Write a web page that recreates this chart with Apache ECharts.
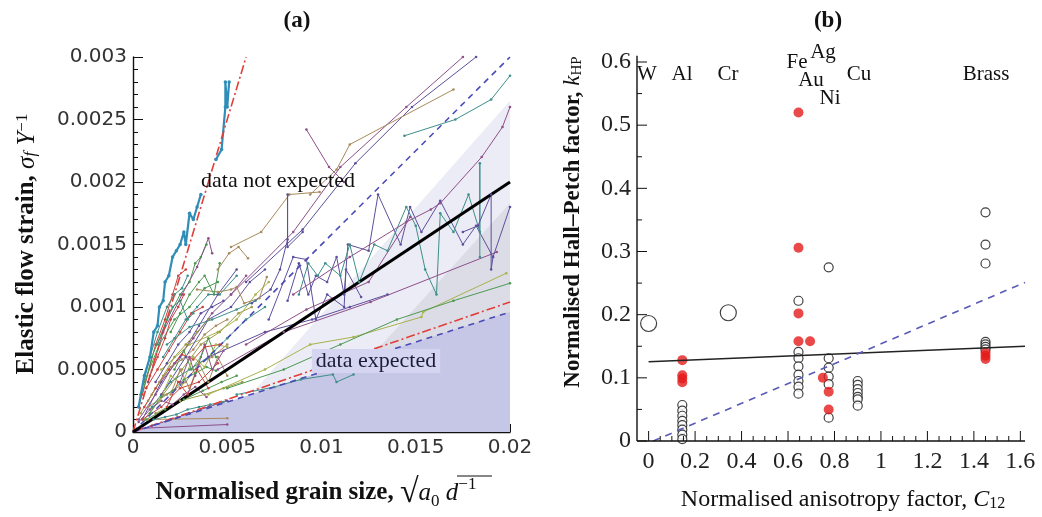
<!DOCTYPE html>
<html>
<head>
<meta charset="utf-8">
<script src="https://cdn.jsdelivr.net/npm/echarts@6/dist/echarts.min.js"></script>
<style>
  html, body { margin: 0; padding: 0; background: #fff; }
  #wrap { position: relative; width: 1042px; height: 517px; }
  #chartA { position: absolute; left: 0; top: 0; width: 540px; height: 517px; }
  #chartB { position: absolute; left: 540px; top: 0; width: 502px; height: 517px; }
</style>
</head>
<body>
<div id="wrap"><div id="chartA"></div><div id="chartB"></div></div>
<script>
// ---- panel (a): elastic flow strain vs normalised grain size ----
var xTicksA = [0, 0.005, 0.01, 0.015, 0.02];
var yTicksA = [0, 0.0005, 0.001, 0.0015, 0.002, 0.0025, 0.003];

// shaded regions (upper boundary of each area)
var shadeLight = [[0.0045, 0], [0.02, 0.00265]];
var shadeGrey = [[0.009, 0], [0.02, 0.00183]];
var shadeDark = [[0, 0], [0.02, 0.00096]];

// reference lines
var fitLine = [[0, 0], [0.02, 0.002]];
var upperBound = [[0, 0], [0.02, 0.003]];
var lowerBound = [[0, 0], [0.02, 0.00096]];
var lowerRed = [[0, 0], [0.02, 0.00104]];
var steepRed = [[0, 0], [0.006, 0.003]];

// measured data series (thick cyan set)
var cyanLow = [[0.0003, 0.0002], [0.0006, 0.00045], [0.0009, 0.0006], [0.0011, 0.0008], [0.0013, 0.00085],
  [0.0014, 0.001], [0.0016, 0.00105], [0.0017, 0.0012], [0.0019, 0.00125], [0.0021, 0.0014], [0.0023, 0.00145],
  [0.0025, 0.0015], [0.0027, 0.0016], [0.0028, 0.0015], [0.003, 0.00175], [0.0032, 0.0017], [0.0034, 0.0018],
  [0.0036, 0.0019]];
var cyanTop = [[0.0044, 0.00218], [0.0047, 0.00226], [0.0049, 0.0026], [0.0049, 0.0028], [0.005, 0.0026], [0.0051, 0.0028]];

// other measured series, thin lines
var steepLines = [
  [[0.0005, 0.0003], [0.0012, 0.0007], [0.0017, 0.0009], [0.0021, 0.0011], [0.0024, 0.00125], [0.0028, 0.0013]],
  [[0.0004, 0.0003], [0.0009, 0.0006], [0.0013, 0.0008], [0.0018, 0.001], [0.0022, 0.0011], [0.0026, 0.00115], [0.0029, 0.00125]],
  [[0.0003, 0.0002], [0.001, 0.0006], [0.0018, 0.0009], [0.0025, 0.0011], [0.003, 0.0012], [0.0033, 0.00135], [0.0036, 0.0014], [0.0039, 0.0015]],
  [[0.0008, 0.0004], [0.0016, 0.0008], [0.0026, 0.0011], [0.0034, 0.00132], [0.004, 0.00155], [0.0042, 0.00143]],
  [[0.0034, 0.00114], [0.0045, 0.00112], [0.0052, 0.00114], [0.0055, 0.00116], [0.0059, 0.00103], [0.0067, 0.00107], [0.0071, 0.00124]],
  [[0.0045, 0.0013], [0.0051, 0.00143], [0.0056, 0.00148], [0.0061, 0.00139]],
  [[0.0018, 0.0007], [0.003, 0.00084], [0.0042, 0.0009], [0.0055, 0.00098], [0.0065, 0.00105]],
  [[0.0006, 0.0004], [0.0014, 0.0007], [0.0022, 0.0009], [0.003, 0.001], [0.0038, 0.00115], [0.0045, 0.0012]],
  [[0.002, 0.0008], [0.0025, 0.00095], [0.003, 0.0011], [0.0035, 0.0012], [0.0038, 0.00125], [0.0043, 0.0011], [0.0046, 0.00135]],
  [[0.0009, 0.00045], [0.0013, 0.0006], [0.0017, 0.00075], [0.002, 0.0009], [0.0024, 0.001], [0.0027, 0.0011]],
  [[0.0013, 0.0007], [0.0017, 0.00085], [0.0021, 0.001], [0.0025, 0.00105], [0.0029, 0.0009], [0.0032, 0.00095]]
];
var steepColors = ['R', 'T', 'G', 'M', 'N', 'N', 'T', 'G', 'G', 'R', 'T'];

var fanLines = [
  [[0.0005, 0.0001], [0.0015, 0.0004], [0.0025, 0.0006], [0.0035, 0.00085], [0.0045, 0.0011], [0.0055, 0.0013]],
  [[0.0003, 0.0001], [0.0012, 0.0003], [0.0022, 0.00055], [0.0032, 0.00075], [0.0042, 0.00095], [0.0052, 0.0011], [0.006, 0.00125]],
  [[0.0006, 0.0001], [0.0016, 0.0003], [0.0026, 0.0005], [0.0036, 0.0007], [0.0046, 0.0008], [0.0056, 0.00095], [0.0063, 0.001]],
  [[0.0008, 0.0002], [0.0018, 0.0003], [0.0028, 0.0004], [0.0035, 0.00055], [0.0042, 0.0006], [0.005, 0.0007]],
  [[0.0005, 0.0001], [0.0015, 0.0002], [0.0025, 0.00035], [0.0035, 0.0004], [0.0045, 0.00055]],
  [[0.0007, 0.0001], [0.0017, 0.00018], [0.0027, 0.00026], [0.0037, 0.00033], [0.0047, 0.0004], [0.0055, 0.00045]],
  [[0.001, 0.00005], [0.002, 0.0001], [0.003, 0.00015], [0.004, 0.0002], [0.005, 0.00025]],
  [[0.0005, 0.00003], [0.005, 0.00006]],
  [[0.0008, 0.0001], [0.005, 0.00011]],
  [[0.0015, 0.0005], [0.003, 0.0007], [0.0045, 0.0008], [0.0055, 0.0009], [0.0065, 0.0011], [0.0072, 0.0012]],
  [[0.002, 0.0003], [0.0025, 0.0005], [0.003, 0.00035], [0.0035, 0.00055], [0.004, 0.0004], [0.0045, 0.0006], [0.005, 0.00045]],
  [[0.0025, 0.0004], [0.003, 0.0006], [0.0033, 0.00045], [0.0038, 0.0007], [0.0042, 0.0005], [0.0048, 0.00065]],
  [[0.0018, 0.0002], [0.0024, 0.0004], [0.0029, 0.0003], [0.0034, 0.0005], [0.004, 0.00035]],
  [[0.001, 0.0002], [0.002, 0.0004], [0.003, 0.0005], [0.004, 0.0006], [0.005, 0.00075], [0.006, 0.0009], [0.007, 0.001]],
  [[0.0015, 0.0003], [0.0028, 0.0006], [0.004, 0.0009], [0.0052, 0.001], [0.0062, 0.0012], [0.007, 0.0013]],
  [[0.0012, 0.00015], [0.0025, 0.00025], [0.0038, 0.0003], [0.0048, 0.00035], [0.0058, 0.0004]],
  [[0.0022, 0.0005], [0.0027, 0.00065], [0.0031, 0.0005], [0.0036, 0.0006], [0.004, 0.00075], [0.0044, 0.0006]],
  [[0.0004, 0.00015], [0.001, 0.0003], [0.0016, 0.00045], [0.0022, 0.0006], [0.0028, 0.0007], [0.0034, 0.0008], [0.004, 0.0009]],
  [[0.0006, 0.0002], [0.0012, 0.00035], [0.0019, 0.0005], [0.0026, 0.00062], [0.0032, 0.00058], [0.0038, 0.00068], [0.0046, 0.0007]],
  [[0.0009, 0.00015], [0.0015, 0.00028], [0.0021, 0.00033], [0.0027, 0.00042], [0.0033, 0.00047], [0.0039, 0.00052], [0.0044, 0.00049]],
  [[0.0003, 0.00008], [0.0009, 0.00018], [0.0015, 0.00025], [0.0021, 0.00022], [0.0027, 0.0003], [0.0033, 0.00036], [0.0039, 0.00028]],
  [[0.0012, 0.0004], [0.0018, 0.00055], [0.0024, 0.0007], [0.003, 0.0008], [0.0036, 0.00095], [0.0042, 0.001], [0.0048, 0.00105]],
  [[0.0014, 0.00025], [0.002, 0.00045], [0.0026, 0.00038], [0.0032, 0.0006], [0.0038, 0.00052], [0.0044, 0.0007], [0.005, 0.00068]],
  [[0.0016, 0.0006], [0.0022, 0.00075], [0.0028, 0.0009], [0.0034, 0.001], [0.004, 0.0011], [0.0046, 0.0011], [0.0055, 0.00125]],
  [[0.0007, 0.00035], [0.0013, 0.0005], [0.0019, 0.00065], [0.0025, 0.0008], [0.0031, 0.00095], [0.0037, 0.001]],
  [[0.0011, 0.0001], [0.0017, 0.00012], [0.0023, 0.00014], [0.0029, 0.00018], [0.0035, 0.0002], [0.0041, 0.00022], [0.0048, 0.00024]],
  [[0.0008, 0.00025], [0.0014, 0.0004], [0.002, 0.00052], [0.0026, 0.00058], [0.0032, 0.00066], [0.0038, 0.00078], [0.0044, 0.00085], [0.005, 0.0009]]
];
var fanColors = ['P', 'M', 'O', 'N', 'R', 'G', 'P', 'M', 'N', 'Y', 'N', 'M', 'R', 'T', 'P', 'O', 'G',
  'O', 'R', 'G', 'M', 'P', 'Y', 'T', 'R', 'T', 'N'];

var upperLines = [
  [[0.0052, 0.0011], [0.0085, 0.0016], [0.011, 0.00212], [0.0145, 0.0026], [0.0175, 0.003]],
  [[0.006, 0.0012], [0.009, 0.00162], [0.0118, 0.00215], [0.0148, 0.0026], [0.0182, 0.003]],
  [[0.0094, 0.0019], [0.0108, 0.0021], [0.0115, 0.0023], [0.017, 0.00274]],
  [[0.0092, 0.00242], [0.0104, 0.00212], [0.0112, 0.002]],
  [[0.0144, 0.00237], [0.0171, 0.0025], [0.019, 0.00266], [0.02, 0.00285]],
  [[0.0085, 0.0011], [0.0115, 0.0014], [0.0145, 0.00168], [0.0158, 0.00178], [0.0163, 0.00183], [0.0185, 0.0022], [0.0196, 0.00244], [0.02, 0.0026]],
  [[0.0052, 0.00148], [0.0068, 0.0016], [0.0083, 0.0019], [0.0099, 0.00192]],
  [[0.0063, 0.00103], [0.0073, 0.00114], [0.0078, 0.0013], [0.0082, 0.00154], [0.0082, 0.0019], [0.0082, 0.00148], [0.009, 0.0016]]
];
var upperColors = ['M', 'P', 'N', 'M', 'T', 'M', 'N', 'P'];

var midLines = [
  [[0.0082, 0.00105], [0.0088, 0.00135], [0.0093, 0.0011], [0.0097, 0.00125], [0.0103, 0.0012], [0.0108, 0.0014], [0.0112, 0.0011],
   [0.0114, 0.0015], [0.0125, 0.00145], [0.013, 0.0019], [0.0142, 0.0015], [0.0147, 0.0018], [0.0153, 0.0016], [0.0163, 0.00185],
   [0.0175, 0.0015], [0.0182, 0.00165], [0.0191, 0.0014]],
  [[0.0088, 0.0011], [0.0093, 0.00135], [0.0098, 0.00125], [0.0102, 0.00135], [0.011, 0.00125], [0.0115, 0.0015], [0.012, 0.0012],
   [0.0128, 0.0015], [0.0135, 0.00145], [0.0145, 0.0018], [0.015, 0.00165], [0.0155, 0.0013], [0.0161, 0.0011], [0.0163, 0.00175],
   [0.017, 0.0016], [0.0178, 0.0019], [0.0184, 0.0016], [0.0184, 0.00215], [0.0184, 0.0014]],
  [[0.0045, 0.0005], [0.008, 0.0008], [0.0126, 0.00104], [0.0193, 0.00144]],
  [[0.004, 0.0003], [0.007, 0.0005], [0.0094, 0.0007], [0.0117, 0.00076], [0.0153, 0.00092], [0.0154, 0.00096], [0.0198, 0.00127]],
  [[0.005, 0.00035], [0.008, 0.0005], [0.011, 0.0007], [0.014, 0.0009], [0.017, 0.00105], [0.02, 0.00119]],
  [[0.0055, 0.0003], [0.0075, 0.00036], [0.0089, 0.00042], [0.0106, 0.00046], [0.0108, 0.0004], [0.0117, 0.00046]],
  [[0.004, 0.0006], [0.007, 0.0008], [0.0095, 0.0009], [0.0115, 0.001], [0.0135, 0.0011]],
  [[0.0175, 0.0016], [0.0183, 0.00165], [0.019, 0.0019], [0.019, 0.0013], [0.0191, 0.0014], [0.02, 0.0018]],
  [[0.0072, 0.0009], [0.0085, 0.0014], [0.0092, 0.00138], [0.0097, 0.0009], [0.0103, 0.0011], [0.0112, 0.001], [0.0113, 0.0013], [0.0121, 0.00108]],
  [[0.006, 0.0007], [0.0092, 0.00098], [0.0125, 0.0012], [0.0147, 0.00172]]
];
var midColors = ['P', 'T', 'M', 'Y', 'G', 'T', 'P', 'P', 'P', 'M'];

// ---- panel (b): Hall-Petch factor vs anisotropy factor ----
var xRangeB = [-0.05, 1.62];
var yRangeB = [0, 0.6];
var xMajorB = [0, 0.2, 0.4, 0.6, 0.8, 1, 1.2, 1.4, 1.6];
var xMinorB = [0.05, 0.1, 0.15, 0.25, 0.3, 0.35, 0.45, 0.5, 0.55, 0.65, 0.7, 0.75, 0.85, 0.9, 0.95,
  1.05, 1.1, 1.15, 1.25, 1.3, 1.35, 1.45, 1.5, 1.55];
var yMajorB = [0, 0.1, 0.2, 0.3, 0.4, 0.5, 0.6];
var yMinorB = [0.05, 0.15, 0.25, 0.35, 0.45, 0.55];
var openBig = [[0, 0.186], [0.343, 0.203]];
var openSmall = [
  [0.145, 0.057], [0.145, 0.048], [0.145, 0.04], [0.145, 0.032], [0.145, 0.025], [0.145, 0.018], [0.145, 0.01], [0.145, 0.003],
  [0.645, 0.222], [0.645, 0.141], [0.645, 0.131], [0.645, 0.118], [0.645, 0.105], [0.645, 0.095], [0.645, 0.086], [0.645, 0.075],
  [0.775, 0.275], [0.775, 0.131], [0.775, 0.116], [0.775, 0.102], [0.775, 0.09], [0.775, 0.037],
  [0.9, 0.095], [0.9, 0.089], [0.9, 0.082], [0.9, 0.076], [0.9, 0.07], [0.9, 0.066], [0.9, 0.056],
  [1.45, 0.362], [1.45, 0.311], [1.45, 0.281], [1.45, 0.157], [1.45, 0.153], [1.45, 0.149], [1.45, 0.145]
];
var redPts = [
  [0.145, 0.128], [0.145, 0.104], [0.145, 0.099], [0.145, 0.093],
  [0.645, 0.52], [0.645, 0.306], [0.645, 0.202], [0.645, 0.158], [0.695, 0.158],
  [0.75, 0.1], [0.775, 0.078], [0.775, 0.05],
  [1.45, 0.14], [1.45, 0.135], [1.45, 0.13]
];
var fitB = [[0, 0.1255], [1.62, 0.15]];
var expectB = [[0.02, 0], [1.62, 0.251]];
var metals = [
  ['W', 107, 74], ['Al', 142, 74], ['Cr', 188, 74], ['Fe', 257, 62], ['Ag', 283, 52],
  ['Au', 271, 80], ['Cu', 319, 74], ['Ni', 290, 98], ['Brass', 446, 74]
];

// styles
var palette = {
  P: '#5c4f9e', M: '#8e4f8a', T: '#3d8f88', O: '#9c9a44', N: '#a88a5c',
  R: '#c8443f', G: '#4c9a52', Y: '#a9b24c', C: '#2f8db8'
};
var serif = 'Liberation Serif';

function areaSeries(data, color) {
  return {
    type: 'line', data: data, silent: true,
    symbol: 'none', lineStyle: { width: 0 }, areaStyle: { color: color, opacity: 1 }
  };
}
function dataSeries(data, color, width, size) {
  return {
    type: 'line', data: data, silent: true,
    symbol: 'circle', symbolSize: size || 2.6, showSymbol: true,
    itemStyle: { color: color }, lineStyle: { color: color, width: width || 1 }
  };
}
function refSeries(data, color, width, dash) {
  return {
    type: 'line', data: data, silent: true, symbol: 'none',
    lineStyle: { color: color, width: width, type: dash || 'solid' }
  };
}
function centered(extra) {
  var s = { fill: '#111', align: 'center', verticalAlign: 'middle', textAlign: 'center', textVerticalAlign: 'middle' };
  for (var k in extra) s[k] = extra[k];
  return s;
}

// ---------- chart A ----------
var seriesA = [];
seriesA.push(areaSeries(shadeLight, '#ececf6'));
seriesA.push(areaSeries(shadeGrey, '#dcdce6'));
seriesA.push(areaSeries(shadeDark, '#c6c6e6'));
function addGroup(lines, colors) {
  for (var i = 0; i < lines.length; i++) {
    seriesA.push(dataSeries(lines[i], palette[colors[i]]));
  }
}
addGroup(fanLines, fanColors);
addGroup(steepLines, steepColors);
addGroup(midLines, midColors);
addGroup(upperLines, upperColors);
seriesA.push(dataSeries(cyanLow, palette.C, 2.2, 3.5));
seriesA.push(dataSeries(cyanTop, palette.C, 2.2, 3.5));
seriesA.push(refSeries(lowerRed, '#e0403a', 1.6, [9, 3, 2, 3]));
seriesA.push(refSeries(lowerBound, '#4a4ab8', 1.6, [6, 5]));
seriesA.push(refSeries(steepRed, '#e0403a', 1.6, [9, 3, 2, 3]));
seriesA.push(refSeries(upperBound, '#4a4ab8', 1.6, [6, 5]));
seriesA.push(refSeries(fitLine, '#000', 3));

var chartA = echarts.init(document.getElementById('chartA'));
chartA.setOption({
  animation: false,
  backgroundColor: '#fff',
  grid: { left: 133, right: 30, top: 57, bottom: 85 },
  xAxis: {
    type: 'value', min: xTicksA[0], max: xTicksA[xTicksA.length - 1], interval: 0.005,
    axisLine: { show: true, onZero: false, lineStyle: { color: '#111', width: 1.4 } },
    axisTick: { show: true, inside: true, length: 8, lineStyle: { color: '#111' } },
    minorTick: { show: true, splitNumber: 5, length: 4, lineStyle: { color: '#111' } },
    splitLine: { show: false },
    axisLabel: { fontFamily: 'DejaVu Sans', fontSize: 20, color: '#333', margin: 6 }
  },
  yAxis: {
    type: 'value', min: yTicksA[0], max: yTicksA[yTicksA.length - 1], interval: 0.0005,
    axisLine: { show: true, onZero: false, lineStyle: { color: '#111', width: 1.4 } },
    axisTick: { show: true, inside: true, length: 10, lineStyle: { color: '#111' } },
    minorTick: { show: true, splitNumber: 5, length: 5, lineStyle: { color: '#111' } },
    splitLine: { show: false },
    axisLabel: { fontFamily: 'DejaVu Sans', fontSize: 20, color: '#333', margin: 6 }
  },
  graphic: [
    { type: 'text', x: 297, y: 21, style: centered({ text: '(a)', font: 'bold 23px ' + serif }) },
    { type: 'text', x: 278, y: 181, z: 20, style: centered({ text: 'data not expected', font: '22px ' + serif }) },
    { type: 'text', x: 376, y: 361, z: 20, style: centered({ text: 'data expected', font: '22px ' + serif, fill: '#1c1c3a', backgroundColor: '#d5d5f1', padding: [1, 4] }) },
    {
      type: 'text', x: 316, y: 493, z: 20,
      style: centered({
        text: '{b|Normalised grain size, }{r|√}{i|a}{s|0}{i| d}{p|−1}',
        rich: {
          b: { fontFamily: serif, fontSize: 25, fontWeight: 'bold', fill: '#111' },
          r: { fontFamily: serif, fontSize: 34, fill: '#111' },
          i: { fontFamily: serif, fontSize: 25, fontStyle: 'italic', fill: '#111' },
          s: { fontFamily: serif, fontSize: 17, fill: '#111', verticalAlign: 'bottom' },
          p: { fontFamily: serif, fontSize: 17, fill: '#111', verticalAlign: 'top' }
        }
      })
    },
    { type: 'line', z: 20, shape: { x1: 457, y1: 476, x2: 492, y2: 476 }, style: { stroke: '#111', lineWidth: 1.2 } },
    {
      type: 'text', x: 27, y: 244, rotation: Math.PI / 2, z: 20,
      style: centered({
        text: '{b|Elastic flow strain, }{i|σ}{s|f}{i| Y}{p|−1}',
        rich: {
          b: { fontFamily: serif, fontSize: 25, fontWeight: 'bold', fill: '#111' },
          i: { fontFamily: serif, fontSize: 25, fontStyle: 'italic', fill: '#111' },
          s: { fontFamily: serif, fontSize: 17, fontStyle: 'italic', fill: '#111', verticalAlign: 'bottom' },
          p: { fontFamily: serif, fontSize: 17, fill: '#111', verticalAlign: 'top' }
        }
      })
    }
  ],
  series: seriesA
});

// ---------- chart B ----------
function labelB(v, step) {
  var r = Math.round(v / step);
  if (Math.abs(v / step - r) > 1e-6) return '';
  return String(parseFloat((r * step).toFixed(2)));
}

var chartB = echarts.init(document.getElementById('chartB'));
chartB.setOption({
  animation: false,
  backgroundColor: 'transparent',
  grid: { left: 97, right: 17, top: 62, bottom: 76 },
  xAxis: {
    type: 'value', min: xRangeB[0], max: xRangeB[1], interval: 0.05,
    axisLine: { show: false }, axisTick: { show: false },
    splitLine: { show: false },
    axisLabel: {
      fontFamily: serif, fontSize: 24, color: '#222', margin: 9, interval: 0, hideOverlap: false,
      formatter: function (v) { return labelB(v, 0.2); }
    }
  },
  yAxis: {
    type: 'value', min: yRangeB[0], max: yRangeB[1], interval: 0.1,
    axisLine: { show: false }, axisTick: { show: false },
    splitLine: { show: false },
    axisLabel: { fontFamily: serif, fontSize: 24, color: '#222', margin: 6 }
  },
  series: [
    refSeries(fitB, '#222', 1.3),
    refSeries(expectB, '#5a5ab8', 1.6, [7, 6]),
    {
      type: 'scatter', data: openSmall, symbolSize: 9, silent: true,
      itemStyle: { color: '#fff', borderColor: '#111', borderWidth: 1.2 }
    },
    {
      type: 'scatter', data: openBig, symbolSize: 16, silent: true,
      itemStyle: { color: '#fff', borderColor: '#111', borderWidth: 1.2 }
    },
    {
      type: 'scatter', data: redPts, symbolSize: 10, silent: true,
      itemStyle: { color: '#e31b1b' }
    }
  ]
});

// axis frame of panel (b), placed through the chart's own scales
function px(x, y) { return chartB.convertToPixel({ gridIndex: 0 }, [x, y]); }
function seg(p, q, w) {
  return { type: 'line', z: 100, silent: true, shape: { x1: p[0], y1: p[1], x2: q[0], y2: q[1] }, style: { stroke: '#111', lineWidth: w || 1 } };
}
var graphicsB = [];
var origin = px(xRangeB[0], 0);
graphicsB.push(seg(px(xRangeB[0], 0), px(xRangeB[1], 0), 1.4));
graphicsB.push(seg(px(xRangeB[0], 0), px(xRangeB[0], 0.61), 1.4));
xMajorB.forEach(function (v) { var p = px(v, 0); graphicsB.push(seg(p, [p[0], p[1] - 10])); });
xMinorB.forEach(function (v) { var p = px(v, 0); graphicsB.push(seg(p, [p[0], p[1] - 5])); });
yMajorB.forEach(function (v) { var p = px(xRangeB[0], v); graphicsB.push(seg(p, [p[0] + 10, p[1]])); });
yMinorB.forEach(function (v) { var p = px(xRangeB[0], v); graphicsB.push(seg(p, [p[0] + 5, p[1]])); });

graphicsB.push({ type: 'text', x: 288, y: 21, style: centered({ text: '(b)', font: 'bold 23px ' + serif }) });
graphicsB.push({
  type: 'text', x: 33, y: 222, rotation: Math.PI / 2, z: 20,
  style: centered({
    text: '{b|Normalised Hall–Petch factor, }{i|k}{s|HP}',
    rich: {
      b: { fontFamily: serif, fontSize: 23, fontWeight: 'bold', fill: '#111' },
      i: { fontFamily: serif, fontSize: 23, fontStyle: 'italic', fill: '#111' },
      s: { fontFamily: serif, fontSize: 15, fill: '#111', verticalAlign: 'bottom' }
    }
  })
});
graphicsB.push({
  type: 'text', x: 303, y: 500, z: 20,
  style: centered({
    text: '{b|Normalised anisotropy factor, }{i|C}{s|12}',
    rich: {
      b: { fontFamily: serif, fontSize: 24, fill: '#111' },
      i: { fontFamily: serif, fontSize: 24, fontStyle: 'italic', fill: '#111' },
      s: { fontFamily: serif, fontSize: 16, fill: '#111', verticalAlign: 'bottom' }
    }
  })
});
metals.forEach(function (m) {
  graphicsB.push({ type: 'text', x: m[1], y: m[2], z: 20, style: centered({ text: m[0], font: '21px ' + serif }) });
});
chartB.setOption({ graphic: graphicsB });
</script>
</body>
</html>
